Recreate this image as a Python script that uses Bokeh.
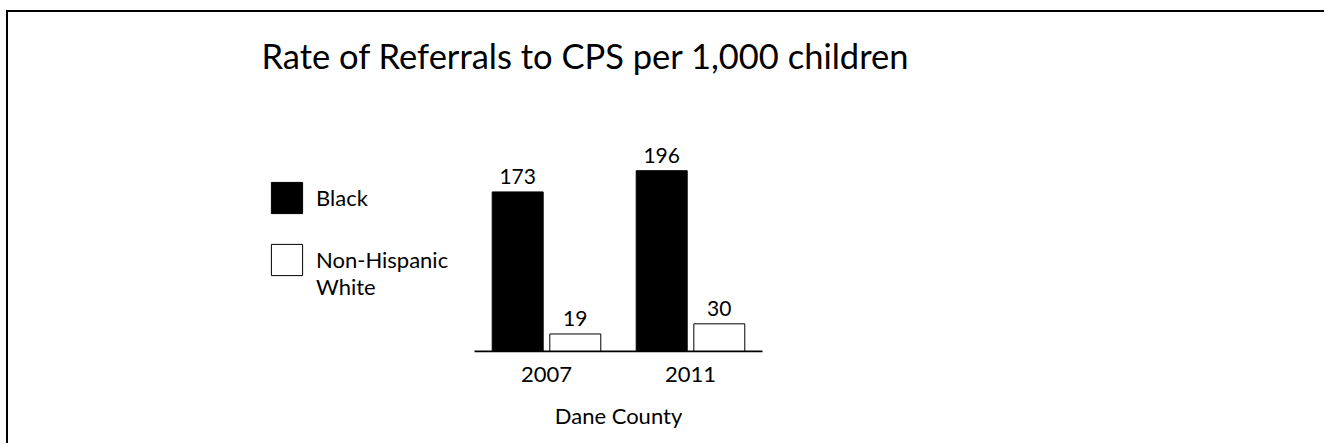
from bokeh.plotting import figure
from bokeh.models import Range1d, Legend, LegendItem, ColumnDataSource, FixedTicker
from bokeh.transform import dodge
from bokeh.core.properties import value
from bokeh.embed import file_html
from bokeh.resources import INLINE

# ---- data ----
years = ["2007", "2011"]
black_rate = [173, 196]
white_rate = [19, 30]
series_names = ["Black", "\nNon-Hispanic\nWhite"]
chart_title = "Rate of Referrals to CPS per 1,000 children"
x_label = "Dane County"

FONT = "Lato"

idx = list(range(len(years)))
src = ColumnDataSource(dict(
    pos=idx,
    black=black_rate,
    white=white_rate,
    black_lbl=[str(v) for v in black_rate],
    white_lbl=[str(v) for v in white_rate],
))
base = ColumnDataSource(dict(x0=[idx[0] - 0.5], x1=[idx[-1] + 0.5], y=[0]))

p = figure(width=1318, height=433,
           x_range=Range1d(-3.736, 4.736), y_range=Range1d(-1.08, 293.8),
           output_backend="svg", toolbar_location=None,
           min_border_left=0, min_border_right=98,
           min_border_top=68, min_border_bottom=93,
           y_axis_location=None)
p.styles = {"border-top": "2px solid black", "border-left": "2px solid black",
            "margin-left": "6px", "margin-top": "10px"}
p.outline_line_color = None
p.xgrid.visible = False
p.ygrid.visible = False
p.background_fill_color = "white"
p.border_fill_color = "white"

bw = 0.354
d = 0.2
r1 = p.vbar(x=dodge("pos", -d), top="black", width=bw, source=src,
            fill_color="black", line_color="black", line_width=1)
r2 = p.vbar(x=dodge("pos", d), top="white", width=bw, source=src,
            fill_color="white", line_color="black", line_width=1)
p.segment(x0="x0", y0="y", x1="x1", y1="y", source=base,
          line_color="black", line_width=2)

for col, lbl, off in (("black", "black_lbl", -d), ("white", "white_lbl", d)):
    p.text(x=dodge("pos", off), y=col, text=lbl, source=src,
           text_align="center", text_baseline="bottom", y_offset=-8,
           text_font=value(FONT), text_font_size="21px", text_color="black")

legend = Legend(items=[LegendItem(label=series_names[0], renderers=[r1]),
                       LegendItem(label=series_names[1], renderers=[r2])],
                location=(259, 52), glyph_width=39, glyph_height=39,
                label_standoff=10, spacing=2,
                padding=0, margin=0,
                border_line_color=None, background_fill_alpha=0,
                label_text_font=FONT, label_text_font_size="22px",
                label_text_color="black")
p.add_layout(legend)

ax = p.xaxis[0]
ax.ticker = FixedTicker(ticks=idx)
ax.major_label_overrides = {i: y for i, y in zip(idx, years)}
ax.axis_line_color = None
ax.major_tick_line_color = None
ax.minor_tick_line_color = None
ax.major_tick_out = 0
ax.major_tick_in = 0
ax.major_label_text_font = FONT
ax.major_label_text_font_size = "22px"
ax.major_label_text_color = "black"
ax.major_label_standoff = 14
ax.axis_label = x_label
ax.axis_label_text_font = FONT
ax.axis_label_text_font_size = "22px"
ax.axis_label_text_font_style = "normal"
ax.axis_label_text_color = "black"
ax.axis_label_standoff = 17

p.title.text = chart_title
p.title.text_font = FONT
p.title.text_font_size = "34.5px"
p.title.text_font_style = "normal"
p.title.text_color = "black"
p.title.align = "left"
p.title.offset = 253

open("out.html", "w").write(file_html(p, INLINE))
